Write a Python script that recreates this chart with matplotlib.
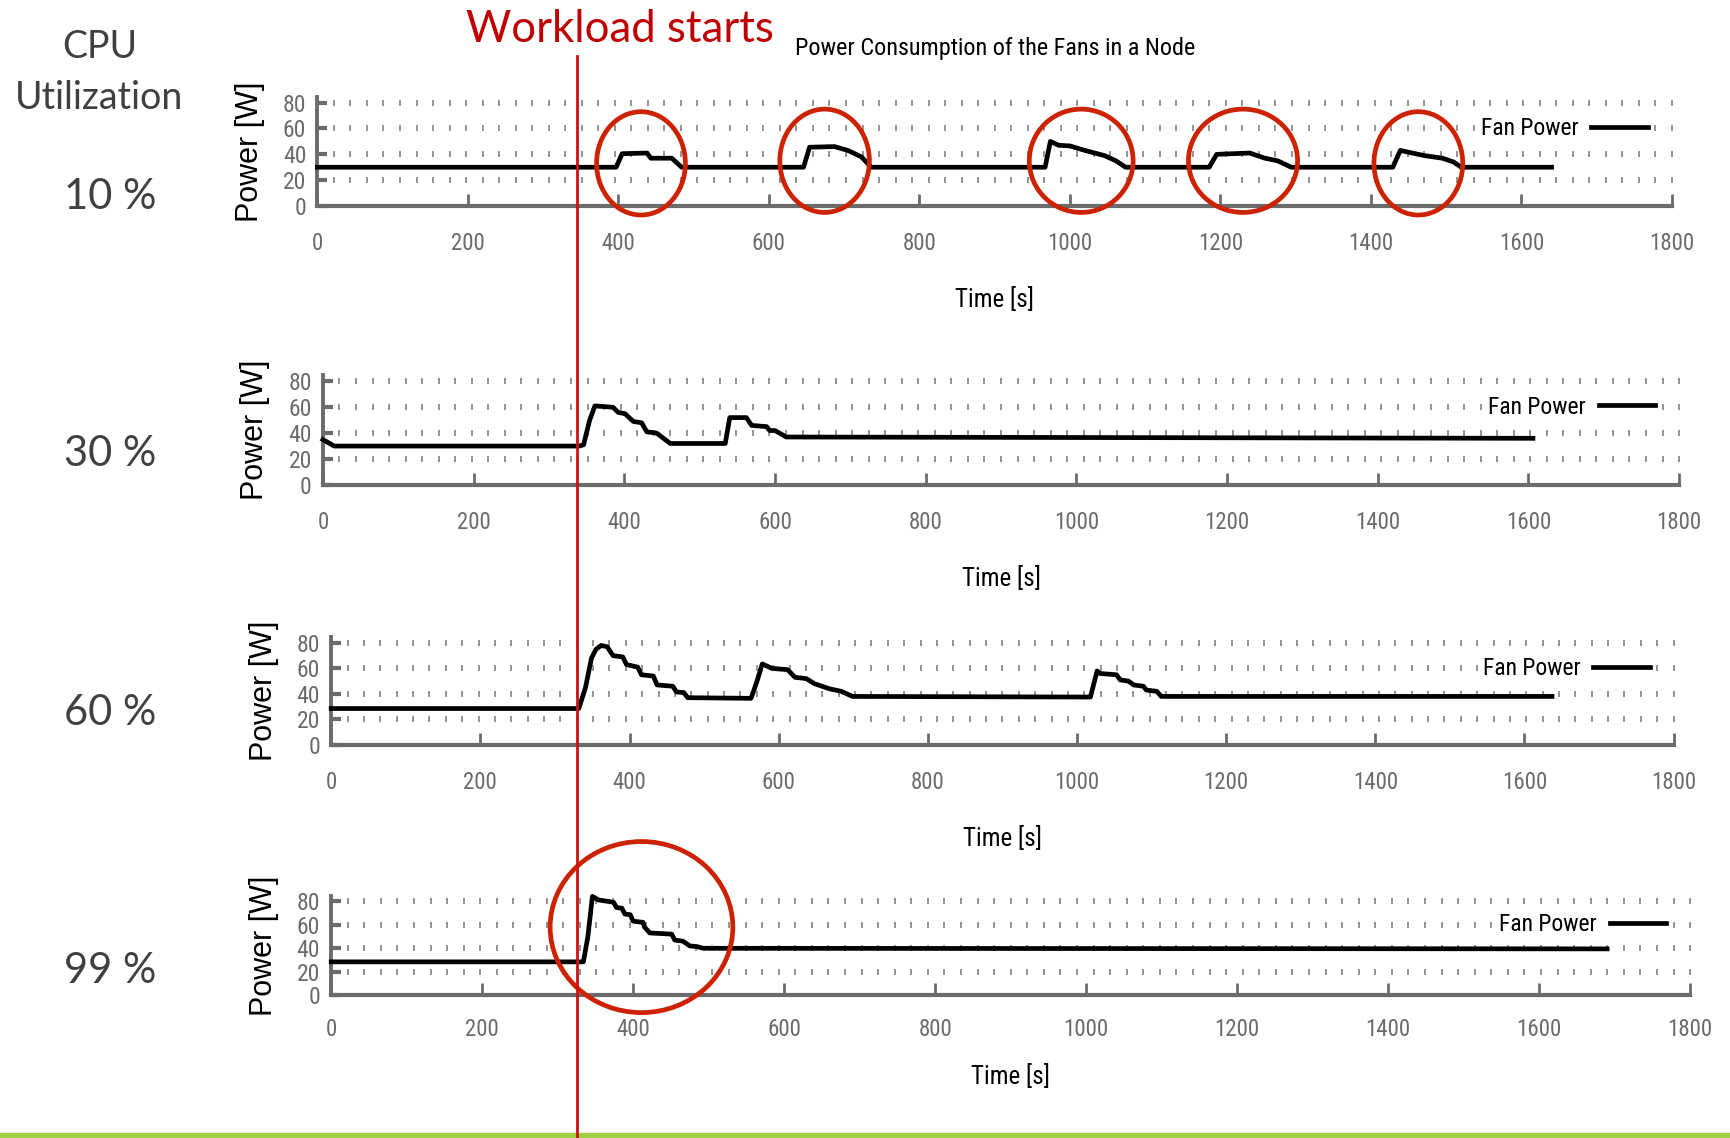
import matplotlib
matplotlib.use("Agg")
import matplotlib.pyplot as plt
import numpy as np
from matplotlib import font_manager
from matplotlib.lines import Line2D
from matplotlib.patches import Ellipse, Rectangle

# Fan power of one node, sampled over the run, for four CPU utilization levels.
# Time in seconds, power in watts.
util_labels = ["10 %", "30 %", "60 %", "99 %"]

time_10 = [0, 397, 405, 438, 443, 471, 484,
           646, 654, 687, 705, 723, 736,
           967, 974, 985, 1000, 1020, 1046, 1061, 1074,
           1185, 1195, 1239, 1259, 1276, 1294,
           1429, 1439, 1471, 1495, 1510, 1520, 1640]
power_10 = [30, 30, 40.5, 41, 37, 37, 30,
            30, 45.5, 46, 43, 38, 30,
            30, 50, 47, 46.5, 43, 39, 35, 30,
            30, 40, 41, 37, 35, 30,
            30, 43, 39, 37, 34, 30, 30]

time_30 = [0, 15, 340, 346, 354, 361, 385, 392, 401, 412, 423, 430, 443, 452, 461,
           534, 540, 562, 569, 589, 593, 600, 615, 1606]
power_30 = [35, 30, 30, 31, 50, 61, 60, 56, 55, 49, 48, 41, 40, 36, 32,
            32, 52, 52, 46, 45, 42, 42, 37, 36]

time_60 = [0, 332, 341, 349, 355, 362, 370, 378, 391, 396, 411, 416, 432, 437, 458,
           463, 473, 478, 563, 571, 578, 591, 612, 622, 637, 648, 668, 684, 699,
           1018, 1027, 1031, 1053, 1058, 1069, 1076, 1089, 1093, 1107, 1113, 1637]
power_60 = [28.5, 28.5, 45, 68, 75, 78, 77, 70, 69, 63, 61, 55, 54, 47, 46,
            41.5, 41, 37, 36.5, 50, 63.5, 60, 59, 53, 52, 48, 44, 42, 38,
            37.5, 58, 56, 55, 51, 50, 47, 46, 43, 42, 38, 38]

time_99 = [0, 334, 340, 346, 354, 374, 378, 385, 389, 396, 400, 413, 415, 422, 451,
           455, 466, 475, 484, 493, 1690]
power_99 = [28.5, 28.5, 50, 84, 81, 79, 74.5, 74, 69, 68.5, 63, 62, 58, 53, 52,
            47, 46, 42, 41.5, 40, 39.5]

traces = [(time_10, power_10), (time_30, power_30),
          (time_60, power_60), (time_99, power_99)]

# fan spin-up episodes ringed in red: centre time, centre power, span in s, span in W
rings = [
    [(430, 33, 118, 80), (674, 35, 119, 80), (1015, 35, 138, 80),
     (1230, 35, 145, 80), (1463, 33, 118, 80)],
    [],
    [],
    [(411, 58, 242, 145)],
]


def pick_narrow():
    fonts = font_manager.fontManager.ttflist
    names = {f.name for f in fonts}
    for name in ("Liberation Sans Narrow", "Roboto Condensed",
                 "Open Sans Condensed", "DejaVu Sans Condensed"):
        if name in names:
            return {"family": name}
    if any(f.name == "DejaVu Sans" and f.stretch != "normal" for f in fonts):
        return {"family": "DejaVu Sans", "stretch": "condensed"}
    return {"family": "DejaVu Sans"}


NARROW = pick_narrow()
SANS = "Liberation Sans"
SLIDE = "Lato"

GRAY = "#6b6b6b"
TEXT_GRAY = "#404040"
RING_RED = "#cc2200"
YMAX = 84.6

fig = plt.figure(figsize=(17.31, 11.38), dpi=100)

# axes rectangles in figure fractions, with tick-label pad and x-label pad
panels = [
    ([0.18336, 0.8190, 0.78253, 0.0960], 19, 23),
    ([0.18654, 0.57391, 0.78348, 0.0962], 19, 23),
    ([0.19133, 0.34549, 0.77551, 0.0947], 19, 23),
    ([0.19133, 0.12524, 0.78508, 0.0877], 16, 17),
]

grid_x = np.linspace(0, 1800, 83)[1:]

for i, (rect, tick_pad, label_pad) in enumerate(panels):
    ax = fig.add_axes(rect)
    t, p = traces[i]
    line, = ax.plot(t, p, color="black", lw=3.4, solid_joinstyle="round",
                    clip_on=False, zorder=3)

    # dotted horizontal grid drawn as short vertical dashes
    for gy in (20, 40, 60, 80):
        ax.plot(grid_x, np.full_like(grid_x, gy), ls="none", marker="|",
                ms=4.5, mew=1.2, color="#808080", zorder=1)

    ax.set_xlim(0, 1800)
    ax.set_ylim(0, YMAX)
    ax.set_xticks(np.arange(0, 1801, 200))
    ax.set_yticks([0, 20, 40, 60, 80])
    for s in ("top", "right"):
        ax.spines[s].set_visible(False)
    ax.spines["left"].set_linewidth(2.8)
    ax.spines["bottom"].set_linewidth(3.0)
    for s in ("left", "bottom"):
        ax.spines[s].set_color(GRAY)
        ax.spines[s].set_capstyle("projecting")

    ax.tick_params(axis="x", direction="in", length=9, width=2.0, color=GRAY,
                   labelcolor=GRAY, pad=tick_pad)
    ax.tick_params(axis="y", direction="in", length=7, width=3.0, color=GRAY,
                   labelcolor=GRAY, pad=8)
    for lab in ax.get_xticklabels():
        lab.set_fontproperties(font_manager.FontProperties(size=16.5, **NARROW))
    for lab in ax.get_yticklabels():
        lab.set_fontproperties(font_manager.FontProperties(size=17, **NARROW))

    ax.set_xlabel("Time [s]", fontsize=18, labelpad=label_pad, **NARROW)
    ax.set_ylabel("Power [W]", fontsize=22, family=SANS, labelpad=13)

    leg = ax.legend([line], ["Fan Power"], loc="center right",
                    bbox_to_anchor=(0.985, 60 / YMAX), markerfirst=False,
                    frameon=True, framealpha=1, facecolor="white", edgecolor="none",
                    handlelength=2.4, handletextpad=0.55, borderpad=0.15,
                    borderaxespad=0, prop=dict(size=17, **NARROW))
    leg.get_frame().set_linewidth(0)
    leg.set_zorder(2)

    for (cx, cy, w, h) in rings[i]:
        ax.add_patch(Ellipse((cx, cy), w, h, fill=False, edgecolor=RING_RED,
                             lw=3.4, clip_on=False, zorder=5))

    fig.text(0.0637, [0.8163, 0.5907, 0.3628, 0.1362][i], util_labels[i],
             ha="center", va="baseline", fontsize=30, color=TEXT_GRAY, family=SLIDE)

fig.text(0.575, 0.9517, "Power Consumption of the Fans in a Node", ha="center",
         va="baseline", fontsize=17.4, **NARROW)

fig.text(0.0575, 0.9488, "CPU", ha="center", va="baseline", fontsize=27,
         color=TEXT_GRAY, family=SLIDE)
fig.text(0.0575, 0.9042, "Utilization", ha="center", va="baseline", fontsize=27,
         color=TEXT_GRAY, family=SLIDE)

fig.text(0.2691, 0.9631, "Workload starts", ha="left", va="baseline", fontsize=31.5,
         color="#c00000", family=SLIDE)

# footer band and the workload start marker
fig.add_artist(Rectangle((0, 0), 1, 0.0044, transform=fig.transFigure,
                         color="#9fcf45", zorder=1))
fig.add_artist(Line2D([0.3333, 0.3333], [0, 0.9508], transform=fig.transFigure,
                      color="#cc1111", lw=2.0, zorder=6))

fig.savefig("out.png", dpi=100)
